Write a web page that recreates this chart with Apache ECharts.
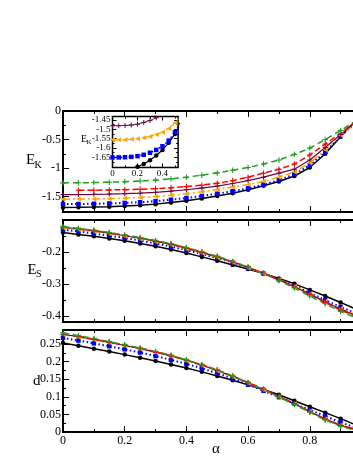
<html>
<head>
<meta charset="utf-8">
<script src="https://cdn.jsdelivr.net/npm/echarts@6/dist/echarts.min.js"></script>
<style>
  html, body, #main { width: 100%; height: 100%; margin: 0; background: #fff; }
</style>
</head>
<body>
<div id="main"></div>
<script>
var FONT = '"Liberation Serif", "DejaVu Serif", serif';

// alpha grid used in the three big panels
var alpha = [0, 0.05, 0.1, 0.15, 0.2, 0.25, 0.3, 0.35, 0.4, 0.45, 0.5,
             0.55, 0.6, 0.65, 0.7, 0.75, 0.8, 0.85, 0.9, 0.95, 1.0];

// E_K
var ekBlack  = [-1.69,-1.688,-1.684,-1.677,-1.667,-1.652,-1.632,-1.605,-1.572,-1.535,-1.49,-1.44,-1.38,-1.31,-1.235,-1.14,-0.99,-0.75,-0.45,-0.16,0.13];
var ekBlue   = [-1.63,-1.629,-1.626,-1.62,-1.611,-1.598,-1.58,-1.555,-1.525,-1.49,-1.45,-1.405,-1.355,-1.29,-1.21,-1.11,-0.95,-0.72,-0.44,-0.2,0.06];
var ekOrange = [-1.545,-1.544,-1.541,-1.536,-1.528,-1.517,-1.5,-1.478,-1.45,-1.415,-1.375,-1.33,-1.29,-1.23,-1.16,-1.07,-0.91,-0.68,-0.43,-0.2,0.04];
var ekMaroon = [-1.465,-1.464,-1.461,-1.456,-1.449,-1.44,-1.425,-1.405,-1.38,-1.35,-1.315,-1.27,-1.22,-1.16,-1.09,-1.02,-0.86,-0.64,-0.41,-0.19,0.03];
var ekRed    = [null,-1.39,-1.388,-1.384,-1.378,-1.37,-1.36,-1.345,-1.325,-1.3,-1.265,-1.22,-1.16,-1.09,-1.02,-0.93,-0.77,-0.58,-0.39,-0.18,0.03];
var ekGreen  = [-1.26,-1.258,-1.254,-1.248,-1.24,-1.228,-1.212,-1.19,-1.16,-1.125,-1.085,-1.04,-0.99,-0.93,-0.86,-0.76,-0.65,-0.5,-0.34,-0.17,0.01];

// E_S
var esBlack  = [-0.139,-0.145,-0.151,-0.158,-0.165,-0.173,-0.182,-0.192,-0.203,-0.215,-0.227,-0.24,-0.253,-0.267,-0.282,-0.299,-0.318,-0.337,-0.357,-0.378,-0.4];
var esBlue   = [-0.13,-0.136,-0.142,-0.149,-0.156,-0.164,-0.173,-0.183,-0.194,-0.206,-0.219,-0.233,-0.25,-0.267,-0.285,-0.305,-0.327,-0.35,-0.371,-0.391,-0.41];
var esOrange = [-0.124,-0.13,-0.136,-0.143,-0.151,-0.159,-0.168,-0.178,-0.19,-0.203,-0.217,-0.232,-0.249,-0.267,-0.286,-0.307,-0.33,-0.353,-0.376,-0.396,-0.413];
var esMaroon = [-0.122,-0.128,-0.134,-0.141,-0.149,-0.157,-0.166,-0.176,-0.188,-0.201,-0.215,-0.231,-0.248,-0.266,-0.286,-0.308,-0.331,-0.355,-0.378,-0.398,-0.415];
var esRed    = [null,-0.127,-0.133,-0.14,-0.148,-0.156,-0.165,-0.175,-0.187,-0.2,-0.214,-0.23,-0.247,-0.266,-0.287,-0.309,-0.333,-0.357,-0.381,-0.401,-0.418];
var esGreen  = [-0.12,-0.126,-0.132,-0.139,-0.147,-0.155,-0.164,-0.174,-0.186,-0.199,-0.213,-0.229,-0.247,-0.267,-0.289,-0.312,-0.337,-0.361,-0.385,-0.405,-0.422];

// d
var dBlack  = [0.253,0.245,0.237,0.229,0.22,0.211,0.202,0.192,0.182,0.171,0.159,0.147,0.134,0.121,0.106,0.089,0.072,0.055,0.038,0.02,0.004];
var dBlue   = [0.268,0.26,0.252,0.244,0.235,0.226,0.216,0.205,0.194,0.181,0.167,0.152,0.135,0.117,0.099,0.081,0.063,0.045,0.027,0.012,0.002];
var dOrange = [0.277,0.27,0.262,0.254,0.245,0.236,0.226,0.215,0.203,0.189,0.174,0.157,0.139,0.12,0.1,0.08,0.059,0.038,0.02,0.008,0.002];
var dMaroon = [0.278,0.271,0.263,0.255,0.246,0.237,0.227,0.216,0.204,0.19,0.175,0.158,0.14,0.121,0.101,0.08,0.058,0.037,0.019,0.007,0.001];
var dRed    = [null,0.272,0.264,0.256,0.247,0.238,0.228,0.217,0.205,0.191,0.176,0.159,0.141,0.122,0.102,0.08,0.058,0.036,0.018,0.006,0.001];
var dGreen  = [0.282,0.274,0.266,0.257,0.248,0.239,0.229,0.218,0.205,0.191,0.177,0.159,0.14,0.121,0.1,0.078,0.056,0.034,0.016,0.004,0.0];

// inset (zoom of E_K at small alpha)
var inAlpha  = [0, 0.05, 0.1, 0.15, 0.2, 0.25, 0.3, 0.35, 0.4, 0.45, 0.5, 0.55];
var inBlack  = [-1.73,-1.728,-1.722,-1.713,-1.7,-1.685,-1.665,-1.64,-1.61,-1.572,-1.525,-1.465];
var inBlue   = [-1.65,-1.65,-1.649,-1.647,-1.643,-1.636,-1.625,-1.61,-1.59,-1.56,-1.515,-1.455];
var inOrange = [-1.556,-1.556,-1.555,-1.553,-1.55,-1.545,-1.538,-1.528,-1.515,-1.495,-1.465,-1.425];
var inMaroon = [-1.48,-1.48,-1.479,-1.477,-1.472,-1.463,-1.452,-1.438,-1.42,-1.397,-1.37,-1.34];

// ticks
var xMajor = [0, 0.2, 0.4, 0.6, 0.8, 1.0];
var xMinor = [0.1, 0.3, 0.5, 0.7, 0.9];
var xLabels = [0, 0.2, 0.4, 0.6, 0.8];
var ekMajor = [0, -0.5, -1, -1.5];
var ekMinor = [-0.25, -0.75, -1.25, -1.75];
var esMajor = [-0.1, -0.2, -0.3, -0.4];
var esMinor = [-0.15, -0.25, -0.35];
var esLabels = [-0.2, -0.3, -0.4];
var dMajor = [0, 0.05, 0.1, 0.15, 0.2, 0.25];
var dMinor = [0.025, 0.075, 0.125, 0.175, 0.225, 0.275];
var inXMajor = [0, 0.2, 0.4];
var inXMinor = [0.1, 0.3, 0.5];
var inYMajor = [-1.7, -1.65, -1.6, -1.55, -1.5, -1.45];
var inYMinor = [-1.675, -1.625, -1.575, -1.525, -1.475];
var inYLabels = [-1.65, -1.6, -1.55, -1.5, -1.45];

var chart = echarts.init(document.getElementById('main'));
var xAxis = [], yAxis = [], series = [];

var grid = [
  {left: 63, top: 111, width: 308.5, height: 101},
  {left: 63, top: 220, width: 308.5, height: 102},
  {left: 63, top: 330, width: 308.5, height: 102},
  {left: 112.5, top: 116.5, width: 65.6, height: 51, backgroundColor: '#fff'}
];
grid.forEach(function (g, i) {
  g.show = true;
  g.borderColor = '#000';
  g.borderWidth = i === 3 ? 1.5 : 2;
  g.containLabel = false;
  g.outerBoundsMode = 'none';
  if (!g.backgroundColor) g.backgroundColor = 'transparent';
});

function fmt(v) { return String(+(+v).toFixed(3)); }

function tickAxis(list, g, pos, min, max, ticks, len, labels, fs, margin) {
  list.push({
    type: 'value', gridIndex: g, position: pos, min: min, max: max,
    axisLine: {show: false, onZero: false},
    splitLine: {show: false},
    axisTick: {show: true, inside: true, length: len, customValues: ticks,
               lineStyle: {color: '#000', width: 1}},
    axisLabel: labels ? {show: true, customValues: labels, formatter: fmt,
               fontFamily: FONT, fontSize: fs, color: '#000', margin: margin,
               hideOverlap: false} : {show: false}
  });
  return list.length - 1;
}

var panels = [
  {min: -1.77, max: 0, major: ekMajor, minor: ekMinor, labels: ekMajor,
   data: [ekBlack, ekBlue, ekOrange, ekMaroon, ekRed, ekGreen]},
  {min: -0.418, max: -0.1, major: esMajor, minor: esMinor, labels: esLabels,
   data: [esBlack, esBlue, esOrange, esMaroon, esRed, esGreen]},
  {min: 0, max: 0.29, major: dMajor, minor: dMinor, labels: dMajor,
   data: [dBlack, dBlue, dOrange, dMaroon, dRed, dGreen]}
];

var PLUS = 'path://M0,4H10V6H0Z M4,0H6V10H4Z';
var styles = [
  {color: '#000000', symbol: 'circle', size: 4.5, type: 'solid', width: 1.5},
  {color: '#0000ff', symbol: 'rect', size: 4.5, type: [1.5, 2.5], width: 2},
  {color: '#ffa500', symbol: 'triangle', rot: 90, size: 5, type: [7, 3, 2, 3], width: 1.5},
  {color: '#670748', symbol: PLUS, size: 5, type: 'solid', width: 1.2},
  {color: '#ff0000', symbol: PLUS, size: 5.5, type: [6, 3], width: 1.5},
  {color: '#1f9e1f', symbol: PLUS, size: 5.5, type: [6, 4], width: 1.5}
];

function addLine(xi, yi, xs, ys, st) {
  var pts = [];
  for (var i = 0; i < xs.length; i++) {
    if (ys[i] !== null) pts.push([xs[i], ys[i]]);
  }
  series.push({
    type: 'line', xAxisIndex: xi, yAxisIndex: yi, data: pts,
    symbol: st.symbol, symbolSize: st.size, symbolRotate: st.rot || 0,
    showSymbol: true, clip: true, animation: false,
    lineStyle: {color: st.color, width: st.width, type: st.type},
    itemStyle: {color: st.color}
  });
}

panels.forEach(function (p, g) {
  var xi = tickAxis(xAxis, g, 'bottom', 0, 1, xMajor, 6, g === 2 ? xLabels : null, 12, 3);
  tickAxis(xAxis, g, 'bottom', 0, 1, xMinor, 3, null);
  tickAxis(xAxis, g, 'top', 0, 1, xMajor, 6, null);
  tickAxis(xAxis, g, 'top', 0, 1, xMinor, 3, null);
  var yi = tickAxis(yAxis, g, 'left', p.min, p.max, p.major, 6, p.labels, 12, 2);
  tickAxis(yAxis, g, 'left', p.min, p.max, p.minor, 3, null);
  p.data.forEach(function (d, k) { addLine(xi, yi, alpha, d, styles[k]); });
});

// inset
var ixi = tickAxis(xAxis, 3, 'bottom', 0, 0.525, inXMajor, 4, inXMajor, 9, 2);
tickAxis(xAxis, 3, 'bottom', 0, 0.525, inXMinor, 2, null);
tickAxis(xAxis, 3, 'top', 0, 0.525, inXMajor, 4, null);
tickAxis(xAxis, 3, 'top', 0, 0.525, inXMinor, 2, null);
var iyi = tickAxis(yAxis, 3, 'left', -1.704, -1.431, inYMajor, 4, inYLabels, 9, 2);
tickAxis(yAxis, 3, 'left', -1.704, -1.431, inYMinor, 2, null);
tickAxis(yAxis, 3, 'right', -1.704, -1.431, inYMajor, 4, null);
tickAxis(yAxis, 3, 'right', -1.704, -1.431, inYMinor, 2, null);
[inBlack, inBlue, inOrange, inMaroon].forEach(function (d, k) {
  var st = Object.assign({}, styles[k]);
  st.width = st.width - 0.3;
  addLine(ixi, iyi, inAlpha, d, st);
});

function txt(s, x, y, size) {
  return {type: 'text', x: x, y: y, z: 100, silent: true,
          style: {text: s, fill: '#000', font: size + 'px ' + FONT,
                  align: 'left', verticalAlign: 'middle',
                  textAlign: 'left', textVerticalAlign: 'middle'}};
}

chart.setOption({
  animation: false,
  backgroundColor: '#fff',
  grid: grid,
  xAxis: xAxis,
  yAxis: yAxis,
  series: series,
  graphic: [
    txt('E', 26, 160, 15), txt('K', 34.5, 165, 10),
    txt('E', 27.5, 270, 15), txt('S', 36, 274.5, 10),
    txt('d', 33, 381, 15),
    txt('\u03b1', 212, 449, 15),
    txt('E', 81, 139, 10), txt('K', 86.5, 142, 7)
  ]
});
</script>
</body>
</html>
